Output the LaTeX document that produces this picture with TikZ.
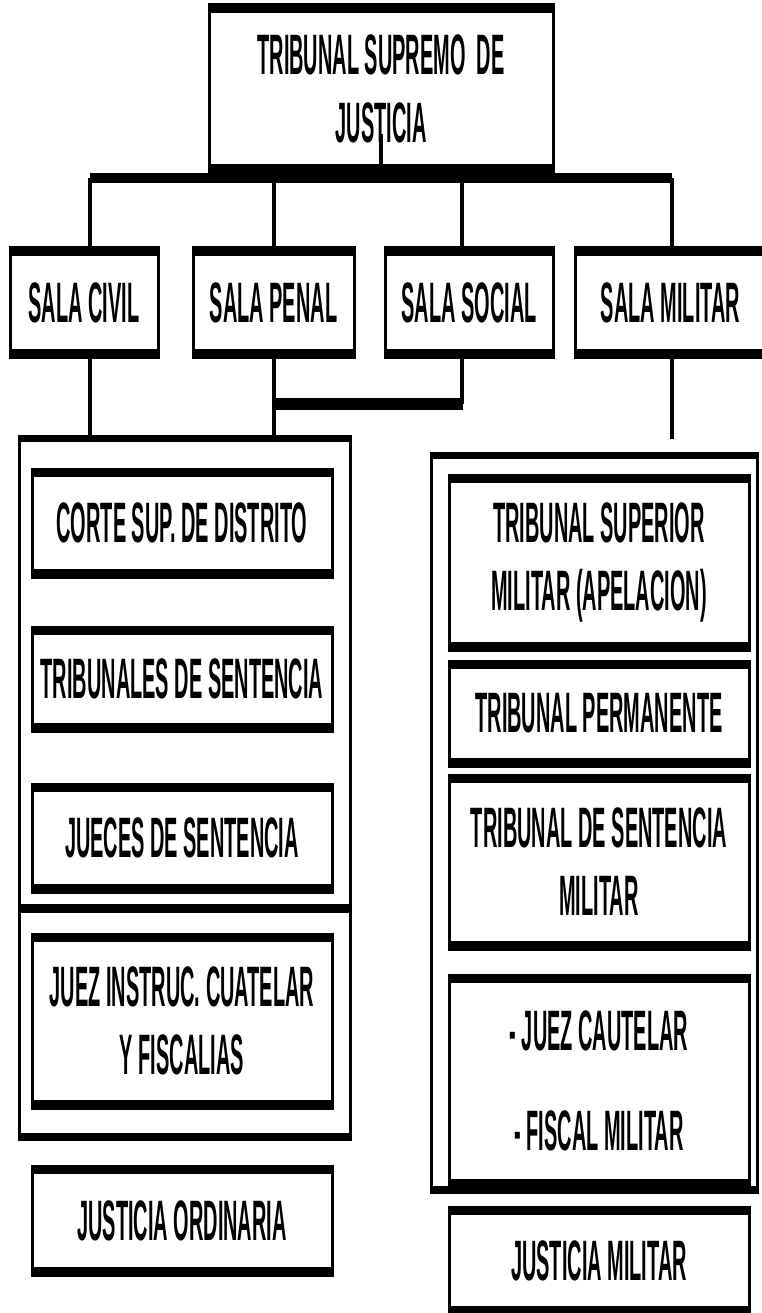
\documentclass[tikz,border=0pt]{standalone}
\usepackage{fontspec}
\usepackage{tikz}
\newfontfamily\orgfont[FakeStretch=0.35]{Liberation Sans}
\tikzset{
    org-box/.style = {draw, line width=3pt, inner sep=0pt, align=center,
        font=\orgfont\bfseries\fontsize{57}{68}\selectfont,
        path picture={
            \fill (path picture bounding box.north west) rectangle ([yshift=-8pt]path picture bounding box.north east);
            \fill (path picture bounding box.south west) rectangle ([yshift=8pt]path picture bounding box.south east);
        }},
    org-frame/.style = {draw, line width=3pt, inner sep=0pt,
        path picture={
            \fill (path picture bounding box.north west) rectangle ([yshift=-6pt]path picture bounding box.north east);
            \fill (path picture bounding box.south west) rectangle ([yshift=6pt]path picture bounding box.south east);
        }},
    link/.style = {line width=4pt},
    bus/.style = {line width=10pt},
    bar/.style = {line width=12pt},
}

\begin{document}
\begin{tikzpicture}[x=1pt, y=-1pt]
\fill[white] (0,0) rectangle (761,1313);
\useasboundingbox (0,0) rectangle (761,1313);

\node[org-frame, minimum width=331pt, minimum height=474pt] (left-upper) at (184.5,673) {};
\node[org-frame, minimum width=331pt, minimum height=232pt] (left-lower) at (184.5,1023) {};
\node[org-frame, minimum width=326pt, minimum height=739pt] (right-frame) at (594,822.5) {};

\node[org-box, minimum width=344pt, minimum height=167pt] (top) at (381,88.5) {TRIBUNAL SUPREMO\ \ DE\\JUSTICIA};

\node[org-box, minimum width=148pt, minimum height=109pt] (civil) at (84,302.5) {SALA CIVIL};
\node[org-box, minimum width=161pt, minimum height=109pt] (penal) at (273.5,302.5) {SALA PENAL};
\node[org-box, minimum width=168pt, minimum height=109pt] (social) at (469,302.5) {SALA SOCIAL};
\node[org-box, minimum width=191pt, minimum height=109pt] (military) at (670.5,302.5) {SALA MILITAR};

\node[org-box, minimum width=300pt, minimum height=108pt] (corte) at (182,523) {CORTE SUP. DE DISTRITO};
\node[org-box, minimum width=300pt, minimum height=104pt] (tribunales) at (182,679) {TRIBUNALES DE SENTENCIA};
\node[org-box, minimum width=300pt, minimum height=108pt] (jueces) at (182,838) {JUECES DE SENTENCIA};
\node[org-box, minimum width=300pt, minimum height=174pt] (instruc) at (182,1021) {JUEZ INSTRUC. CUATELAR\\Y FISCALIAS};
\node[org-box, minimum width=300pt, minimum height=109pt] (ordinaria) at (182,1220.5) {JUSTICIA ORDINARIA};

\node[org-box, minimum width=300pt, minimum height=175pt] (superior) at (599,562.5) {TRIBUNAL SUPERIOR\\MILITAR (APELACION)};
\node[org-box, minimum width=300pt, minimum height=105pt] (permanente) at (599,713.5) {TRIBUNAL PERMANENTE};
\node[org-box, minimum width=300pt, minimum height=174pt] (sentencia) at (599,862) {TRIBUNAL DE SENTENCIA\\MILITAR};
\node[org-box, minimum width=300pt, minimum height=212pt] (cautelar) at (599,1081) {- JUEZ CAUTELAR\\[32pt]- FISCAL MILITAR};
\node[org-box, minimum width=300pt, minimum height=107pt] (justicia-militar) at (599,1260.5) {JUSTICIA MILITAR};

\coordinate (bus-w) at (90,178);
\coordinate (bus-e) at (672,178);
\coordinate (join) at (463,404);
\coordinate (mil-end) at (672,439);

\draw[link] ([yshift=39pt]top.south) -- (top.south |- bus-w);
\draw[bus] (bus-w) -- (bus-e);
\draw[link] (bus-w) -- (bus-w |- civil.north);
\draw[link] (penal.north |- bus-w) -- (penal.north);
\draw[link] ([xshift=-7pt]social.north |- bus-w) -- ([xshift=-7pt]social.north);
\draw[link] (bus-e) -- (bus-e |- military.north);

\draw[link] (bus-w |- civil.south) -- (bus-w |- left-upper.north);
\draw[link] (penal.south) -- (penal.south |- left-upper.north);
\draw[link] ([xshift=-7pt]social.south) -- ([xshift=-7pt]social.south |- join);
\draw[bar] (penal.south |- join) -- (join);
\draw[link] (mil-end |- military.south) -- (mil-end);
\end{tikzpicture}
\end{document}
